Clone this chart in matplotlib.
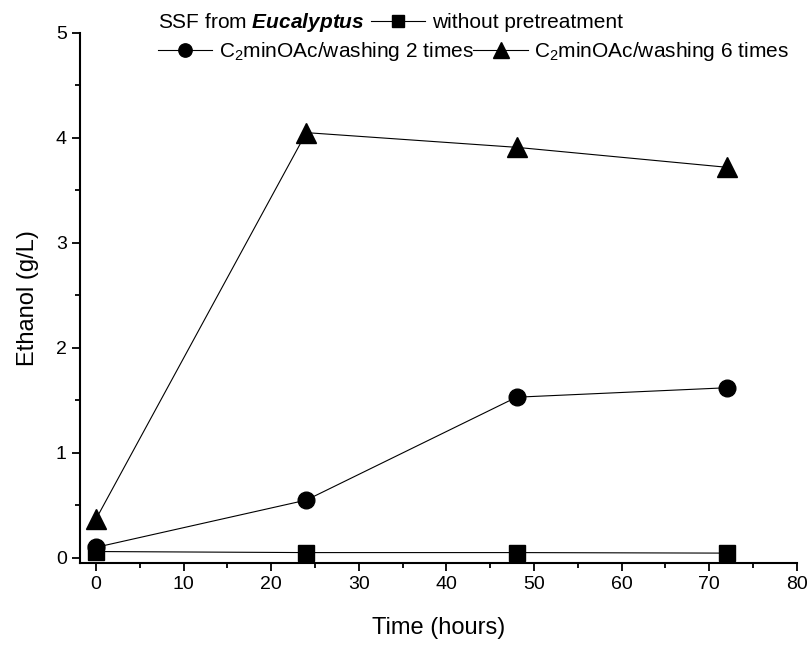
import matplotlib
matplotlib.use("Agg")
import matplotlib.pyplot as plt
from matplotlib.lines import Line2D
from matplotlib.ticker import MultipleLocator

plt.rcParams['font.family'] = ['Liberation Sans', 'DejaVu Sans']
plt.rcParams['mathtext.fontset'] = 'custom'
plt.rcParams['mathtext.rm'] = 'Liberation Sans'
plt.rcParams['mathtext.it'] = 'Liberation Sans:italic'
plt.rcParams['mathtext.bf'] = 'Liberation Sans:bold'
plt.rcParams['mathtext.bfit'] = 'Liberation Sans:bold:italic'
plt.rcParams['mathtext.default'] = 'regular'

# data
time_h = [0, 24, 48, 72]
no_pretreat = [0.06, 0.05, 0.05, 0.045]
wash_2 = [0.10, 0.55, 1.53, 1.62]
wash_6 = [0.37, 4.05, 3.91, 3.72]

fig = plt.figure(figsize=(8.1, 6.45), dpi=100)
ax = fig.add_axes([0.0988, 0.127, 0.885, 0.822])

kw = dict(color='black', lw=0.8, clip_on=False)
l_sq, = ax.plot(time_h, no_pretreat, marker='s', ms=11, **kw)
l_ci, = ax.plot(time_h, wash_2, marker='o', ms=12, **kw)
l_tr, = ax.plot(time_h, wash_6, marker='^', ms=14, **kw)

ax.set_xlim(-1.83, 80)
ax.set_ylim(-0.05, 5)
ax.xaxis.set_major_locator(MultipleLocator(10))
ax.xaxis.set_minor_locator(MultipleLocator(5))
ax.yaxis.set_major_locator(MultipleLocator(1))
ax.yaxis.set_minor_locator(MultipleLocator(0.5))
ax.spines['top'].set_visible(False)
ax.spines['right'].set_visible(False)
for s in ['left', 'bottom']:
    ax.spines[s].set_linewidth(1.5)
ax.tick_params(which='major', direction='out', length=6, width=1.3, labelsize=14)
ax.tick_params(which='minor', direction='out', length=3.5, width=1.3)

ax.set_xlabel('Time (hours)', fontsize=17, labelpad=17)
ax.set_ylabel('Ethanol (g/L)', fontsize=17, labelpad=12)

dummy = Line2D([], [], color='none')
leg_kw = dict(frameon=False, fontsize=15, borderpad=0, borderaxespad=0,
              handlelength=2.6, handletextpad=0.3, loc='center left', ncol=2,
              markerscale=0.8)
leg1 = ax.legend([dummy, l_sq],
                 ['SSF from $\\mathbfit{Eucalyptus}$', 'without pretreatment'],
                 bbox_to_anchor=(0.025, 1.019), columnspacing=0.3, **leg_kw)
ax.add_artist(leg1)
ax.legend([l_ci, l_tr],
          ['C$_2$minOAc/washing 2 times', 'C$_2$minOAc/washing 6 times'],
          bbox_to_anchor=(0.109, 0.964), columnspacing=0.0, **leg_kw)

fig.savefig('out.png', dpi=100)
